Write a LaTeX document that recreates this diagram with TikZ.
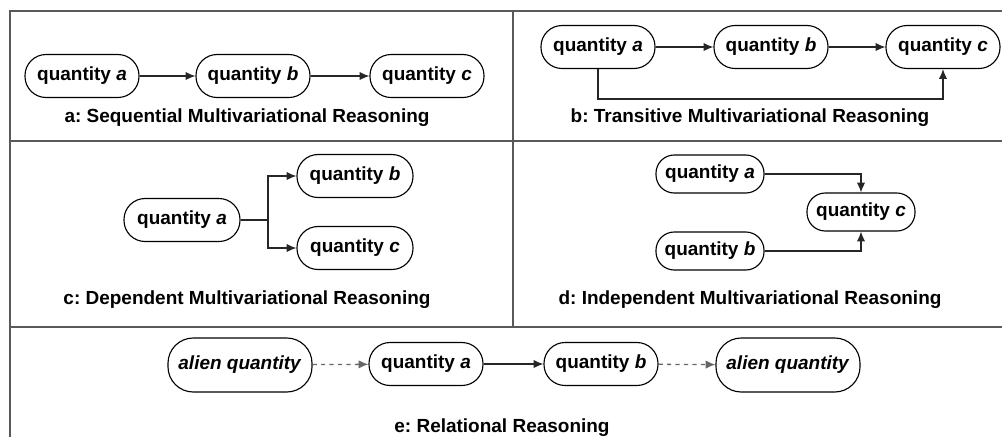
\documentclass[tikz,border=0pt]{standalone}
\usepackage{fontspec}
\setmainfont{Liberation Sans}
\usetikzlibrary{arrows.meta}
\frenchspacing
\begin{document}
\begin{tikzpicture}[x=0.025cm,y=-0.025cm,
  q/.style={draw=black,line width=0.8pt,rounded corners=15pt,minimum width=2.85cm,minimum height=1.075cm,
    font=\fontsize{13.5}{15}\selectfont\bfseries,inner sep=0pt},
  qd/.style={q,minimum width=2.7cm,minimum height=0.95cm,rounded corners=13pt},
  qe/.style={q,minimum width=3.6cm,minimum height=1.35cm,rounded corners=18pt},
  lab/.style={font=\fontsize{13.5}{15}\selectfont\bfseries,inner sep=0pt},
  arr/.style={-{Latex[length=7pt,width=6pt]},line width=0.9pt,draw=black!85},
  plain/.style={line width=0.9pt,draw=black!85},
  darr/.style={arr,draw=black!60,dash pattern=on 3pt off 3pt},
  frame/.style={line width=1.5pt,draw=black!65}]
\useasboundingbox (0,0) rectangle (1002,437);
% frame
\draw[frame] (1002,11) -- (10,11) -- (10,437);
\draw[frame] (10,141) -- (1002,141);
\draw[frame] (10,327) -- (1002,327);
\draw[frame] (513,11) -- (513,327);
% panel a
\node[q] (a1) at (82,76) {quantity \textit{a}};
\node[q] (b1) at (253,76) {quantity \textit{b}};
\node[q] (c1) at (427,76) {quantity \textit{c}};
\draw[arr] (a1) -- (b1);
\draw[arr] (b1) -- (c1);
\node[lab] (la) at (247,118) {a: Sequential Multivariational Reasoning};
% panel b
\node[q] (a2) at (598,47) {quantity \textit{a}};
\node[q] (b2) at (771,47) {quantity \textit{b}};
\node[q] (c2) at (943,47) {quantity \textit{c}};
\draw[arr] (a2) -- (b2);
\draw[arr] (b2) -- (c2);
\draw[arr] (a2.south) -- ++(0,30) -| (c2.south);
\node[lab] (lb) at (750,118) {b: Transitive Multivariational Reasoning};
% panel c
\node[q,minimum width=2.9cm] (a3) at (182,220) {quantity \textit{a}};
\node[q,minimum width=2.9cm] (b3) at (355,176) {quantity \textit{b}};
\node[q,minimum width=2.9cm] (c3) at (355,248) {quantity \textit{c}};
\coordinate (j) at (268,220);
\draw[plain] (a3.east) -- (j);
\draw[arr] (j) |- (b3.west);
\draw[arr] (j) |- (c3.west);
\node[lab] (lc) at (247,300) {c: Dependent Multivariational Reasoning};
% panel d
\node[qd] (a4) at (710,174) {quantity \textit{a}};
\node[qd] (b4) at (710,251) {quantity \textit{b}};
\node[qd] (c4) at (861,212) {quantity \textit{c}};
\draw[arr] (a4.east) -| (c4.north);
\draw[arr] (b4.east) -| (c4.south);
\node[lab] (ld) at (750,300) {d: Independent Multivariational Reasoning};
% panel e
\node[qe] (e1) at (240,365) {\textit{alien quantity}};
\node[q] (e2) at (426,364) {quantity \textit{a}};
\node[q] (e3) at (601,364) {quantity \textit{b}};
\node[qe] (e4) at (788,365) {\textit{alien quantity}};
\draw[darr] (e1) -- (e2);
\draw[arr] (e2) -- (e3);
\draw[darr] (e3) -- (e4);
\node[lab] (le) at (502,428) {e: Relational Reasoning};
\end{tikzpicture}
\end{document}
